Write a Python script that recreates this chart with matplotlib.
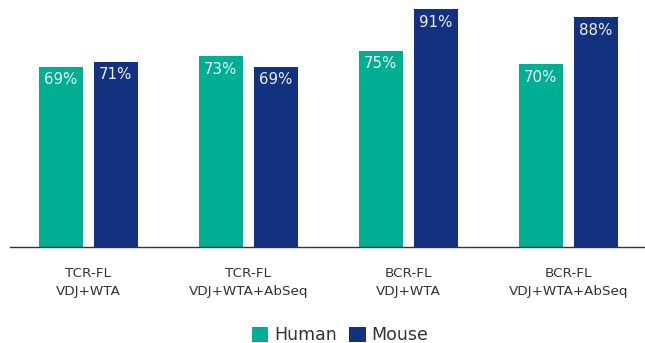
import matplotlib
matplotlib.use("Agg")
import matplotlib.pyplot as plt
import numpy as np
from matplotlib.patches import Patch

categories = ["TCR-FL\nVDJ+WTA", "TCR-FL\nVDJ+WTA+AbSeq", "BCR-FL\nVDJ+WTA", "BCR-FL\nVDJ+WTA+AbSeq"]
series_names = ["Human", "Mouse"]
human = [69, 73, 75, 70]
mouse = [71, 69, 91, 88]

TEAL = "#00AE93"
NAVY = "#12327F"
TEXT = "#333333"

fig = plt.figure(figsize=(6.45, 3.43), dpi=100)
ax = fig.add_axes([10 / 645, 96 / 343, 635 / 645, 247 / 343])

x = np.arange(len(categories))
width = 0.275
offset = 0.172

for vals, color, dx in [(human, TEAL, -offset), (mouse, NAVY, offset)]:
    bars = ax.bar(x + dx, vals, width=width, color=color, linewidth=0)
    for b, v in zip(bars, vals):
        ax.annotate(f"{v}%", (b.get_x() + b.get_width() / 2, v),
                    xytext=(0, -9.2), textcoords="offset points",
                    ha="center", va="center", color="#EEF2F4", fontsize=10.8)

ax.set_xlim(-0.49, 3.48)
ax.set_ylim(0, 94.6)
ax.set_yticks([])
ax.set_xticks(x)
ax.set_xticklabels(categories, fontsize=9.7, color=TEXT, linespacing=1.5)
ax.tick_params(axis="x", length=0, pad=14.5)
for s in ["top", "right", "left"]:
    ax.spines[s].set_visible(False)
ax.spines["bottom"].set_color("#333333")
ax.spines["bottom"].set_linewidth(1.0)

handles = [Patch(facecolor=TEAL, edgecolor="none"), Patch(facecolor=NAVY, edgecolor="none")]
fig.legend(handles, series_names, loc="center", bbox_to_anchor=(340 / 645, 1 - 335 / 343),
           ncol=2, frameon=False, fontsize=12.5, labelcolor=TEXT,
           handlelength=0.95, handleheight=0.95, handletextpad=0.35, columnspacing=0.7)

fig.savefig("out.png", dpi=100)
